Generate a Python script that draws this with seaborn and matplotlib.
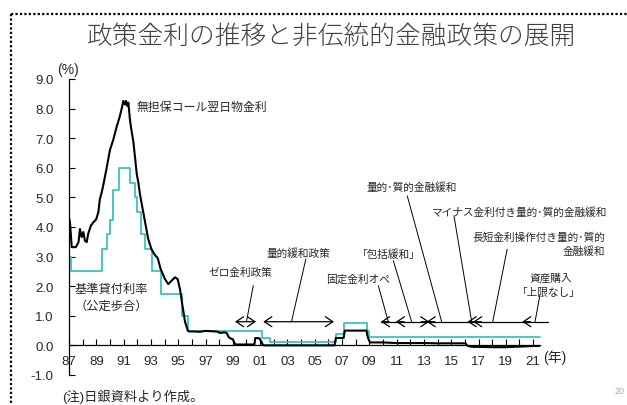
import numpy as np
import matplotlib
matplotlib.use("Agg")
import matplotlib.pyplot as plt
import seaborn as sns
from matplotlib.lines import Line2D

sns.set_theme(style="white")
plt.rcParams['font.family'] = ['Liberation Sans', 'Noto Sans CJK JP']
plt.rcParams['axes.unicode_minus'] = False

# 無担保コール翌日物金利 (%), decimal year
call_year = [1987.0, 1987.07, 1987.2, 1987.5, 1987.7, 1987.8, 1987.93, 1988.05, 1988.17,
             1988.3, 1988.4, 1988.6, 1988.8, 1988.9, 1989.0, 1989.15, 1989.26, 1989.4,
             1989.5, 1989.6, 1989.76, 1990.0, 1990.25, 1990.5, 1990.7, 1990.86, 1990.98,
             1991.1, 1991.18, 1991.27, 1991.35, 1991.47, 1991.6, 1991.71, 1991.85, 1991.96,
             1992.08, 1992.2, 1992.32, 1992.44, 1992.6, 1992.8, 1993.04, 1993.3, 1993.5,
             1993.7, 1994.03, 1994.27, 1994.52, 1994.77, 1994.96, 1995.13, 1995.35, 1995.5,
             1995.7, 1995.8, 1996.2, 1996.6, 1997.0, 1997.4, 1997.8, 1997.95, 1998.05,
             1998.4, 1998.55, 1998.7, 1998.85, 1999.0, 1999.1, 1999.2, 2000.58, 2000.65,
             2000.95, 2001.1, 2001.2, 2001.3, 2006.45, 2006.55, 2007.12, 2007.2, 2008.8,
             2008.85, 2008.95, 2009.05, 2010.0, 2011.0, 2012.0, 2013.0, 2014.0, 2015.0,
             2016.05, 2016.15, 2016.3, 2016.6, 2017.0, 2018.0, 2019.0, 2020.0, 2020.5,
             2021.0, 2021.45]
call_rate = [4.32, 4.17, 3.32, 3.32, 3.49, 3.93, 3.66, 3.83, 3.53,
             3.49, 3.76, 4.04, 4.17, 4.21, 4.27, 4.50, 4.94, 5.18,
             5.39, 5.62, 6.00, 6.60, 6.96, 7.40, 7.70, 8.00, 8.26,
             8.14, 8.26, 8.09, 8.20, 7.60, 7.20, 6.90, 6.30, 5.80,
             5.50, 5.10, 4.80, 4.50, 4.10, 3.60, 3.25, 3.05, 2.95,
             2.60, 2.24, 2.07, 2.19, 2.30, 2.24, 1.90, 1.23, 0.80,
             0.50, 0.47, 0.47, 0.46, 0.49, 0.48, 0.47, 0.45, 0.42,
             0.44, 0.42, 0.28, 0.23, 0.21, 0.10, 0.03, 0.03, 0.25,
             0.24, 0.12, 0.02, 0.002, 0.002, 0.25, 0.25, 0.50, 0.50,
             0.35, 0.20, 0.10, 0.10, 0.08, 0.08, 0.08, 0.07, 0.07,
             0.07, 0.00, -0.03, -0.05, -0.05, -0.06, -0.06, -0.04, -0.03,
             -0.02, -0.02]

# 基準貸付利率（公定歩合） (%), changes take effect at each date
disc_year = [1987.0, 1987.15, 1989.41, 1989.78, 1989.98, 1990.22, 1990.66, 1991.5,
             1991.87, 1992.0, 1992.25, 1992.57, 1993.1, 1993.72, 1995.28, 1995.69,
             2001.12, 2001.17, 2001.72, 2006.54, 2007.14, 2008.83, 2008.97, 2021.5]
disc_rate = [3.0, 2.5, 3.25, 3.75, 4.25, 5.25, 6.0, 5.5,
             5.0, 4.5, 3.75, 3.25, 2.5, 1.75, 1.0, 0.5,
             0.35, 0.25, 0.1, 0.4, 0.75, 0.5, 0.3, 0.3]

xtick_years = list(range(1987, 2022, 2))
xtick_labels = [f"{y % 100:02d}" for y in xtick_years]
ytick_values = [-1.0, 0.0, 1.0, 2.0, 3.0, 4.0, 5.0, 6.0, 7.0, 8.0, 9.0]

TEAL = "#3EC1C1"
W, H = 627, 406

fig = plt.figure(figsize=(W / 100, H / 100), dpi=100)
ax = fig.add_axes([69 / W, 30 / H, 480.5 / W, 296 / H])
ax.set_facecolor("none")

sns.lineplot(x=disc_year, y=disc_rate, color=TEAL, lw=1.3, drawstyle="steps-post",
             estimator=None, sort=False, ax=ax)
sns.lineplot(x=call_year, y=call_rate, color="black", lw=1.5,
             estimator=None, sort=False, ax=ax)

ax.set_xlim(1987, 2022.2)
ax.set_ylim(-1.0, 9.0)
for s in ("top", "right"):
    ax.spines[s].set_visible(False)
ax.spines["bottom"].set_position(("data", 0))
ax.spines["bottom"].set_bounds(1987, 2021.5)
ax.spines["left"].set_bounds(-1.0, 9.0)
for s in ("bottom", "left"):
    ax.spines[s].set_color("black")
    ax.spines[s].set_linewidth(0.9)

ax.set_xticks(xtick_years)
ax.set_xticklabels(xtick_labels)
ax.set_xticks(list(range(1988, 2021, 2)), minor=True)
ax.set_yticks(ytick_values)
ax.set_yticklabels([f"{v:.1f}" for v in ytick_values])
ax.tick_params(axis="x", which="both", direction="in", length=4, width=0.8,
               color="black", labelsize=9.5, pad=7, bottom=True)
ax.tick_params(axis="y", direction="in", length=4, width=0.8, color="black",
               labelsize=9.5, pad=11, left=True)
ax.set_xlabel("")
ax.set_ylabel("")
ax.grid(False)

# series labels
ax.text(1991.98, 8.04, "無担保コール翌日物金利", fontsize=8.6, va="center", ha="left")
ax.text(1990.1, 1.9, "基準貸付利率", fontsize=8.8, va="center", ha="center")
ax.text(1990.1, 1.33, "（公定歩合）", fontsize=8.8, va="center", ha="center")

# policy periods
ARROW_Y = 0.8
AFS = 7.7
head = "head_length=0.45,head_width=0.3"
for x0, x1 in [(1999.16, 2000.7), (2001.23, 2006.41)]:
    ax.annotate("", xy=(x1, ARROW_Y), xytext=(x0, ARROW_Y),
                arrowprops=dict(arrowstyle="<->," + head, lw=0.9, color="black",
                                shrinkA=0, shrinkB=0), annotation_clip=False)

ax.plot([2009.85, 2022.1], [ARROW_Y, ARROW_Y], color="black", lw=0.9, clip_on=False)
for xh, d in [(2009.85, 1), (2010.95, 1), (2013.2, 1), (2013.4, -1),
              (2016.2, 1), (2016.6, 1), (2020.2, 1)]:
    ax.annotate("", xy=(xh, ARROW_Y), xytext=(xh + 0.6 * d, ARROW_Y),
                arrowprops=dict(arrowstyle="->," + head, lw=0.9, color="black",
                                shrinkA=0, shrinkB=0), annotation_clip=False)

labels = [
    (1999.53, 2.47, "ゼロ金利政策", "center"),
    (2003.8, 3.15, "量的緩和政策", "center"),
    (2008.2, 2.24, "固定金利オペ", "center"),
    (2010.33, 3.09, "「包括緩和」", "center"),
    (2012.1, 5.36, "量的･質的金融緩和", "center"),
    (2019.98, 4.54, "マイナス金利付き量的･質的金融緩和", "center"),
    (2026.27, 3.69, "長短金利操作付き量的･質的", "right"),
    (2026.27, 3.20, "金融緩和", "right"),
    (2022.3, 2.28, "資産購入", "center"),
    (2022.05, 1.80, "「上限なし」", "center"),
]
for x, y, t, ha in labels:
    ax.text(x, y, t, fontsize=AFS, va="center", ha=ha, clip_on=False)

leaders = [
    ((2000.5, 2.02), (2000.0, ARROW_Y)),
    ((2004.35, 2.92), (2003.3, ARROW_Y)),
    ((2009.66, 2.02), (2010.39, ARROW_Y)),
    ((2010.76, 2.86), (2012.1, ARROW_Y)),
    ((2011.78, 5.05), (2014.3, ARROW_Y)),
    ((2015.2, 4.38), (2016.5, ARROW_Y)),
    ((2019.1, 3.25), (2018.04, ARROW_Y)),
    ((2021.5, 1.70), (2021.14, ARROW_Y)),
]
for (xa, ya), (xb, yb) in leaders:
    ax.plot([xa, xb], [ya, yb], color="black", lw=0.7, clip_on=False)

# figure-level texts
def fx(px):
    return px / W

def fy(py):
    return 1 - py / H

fig.text(fx(332), fy(36.5), "政策金利の推移と非伝統的金融政策の展開", fontsize=18.5,
         color="#404040", ha="center", va="center", fontweight="light")
fig.text(fx(57), fy(70), "(%)", fontsize=10, ha="left", va="center")
fig.text(fx(543), fy(357.5), "(年)", fontsize=10, ha="left", va="center")
fig.text(fx(62), fy(397), "(注)日銀資料より作成。", fontsize=9.5, ha="left", va="center")
fig.text(fx(620), fy(392), "20", fontsize=6.5, color="#aaaaaa", ha="center", va="center")

# dotted frame
dots = dict(color="black", lw=1.6, linestyle=(0, (1, 1)), transform=fig.transFigure)
fig.add_artist(Line2D([fx(11), fx(11)], [fy(15), fy(406)], **dots))
fig.add_artist(Line2D([fx(11), fx(627)], [fy(15), fy(15)], **dots))

fig.savefig("out.png", dpi=100)
